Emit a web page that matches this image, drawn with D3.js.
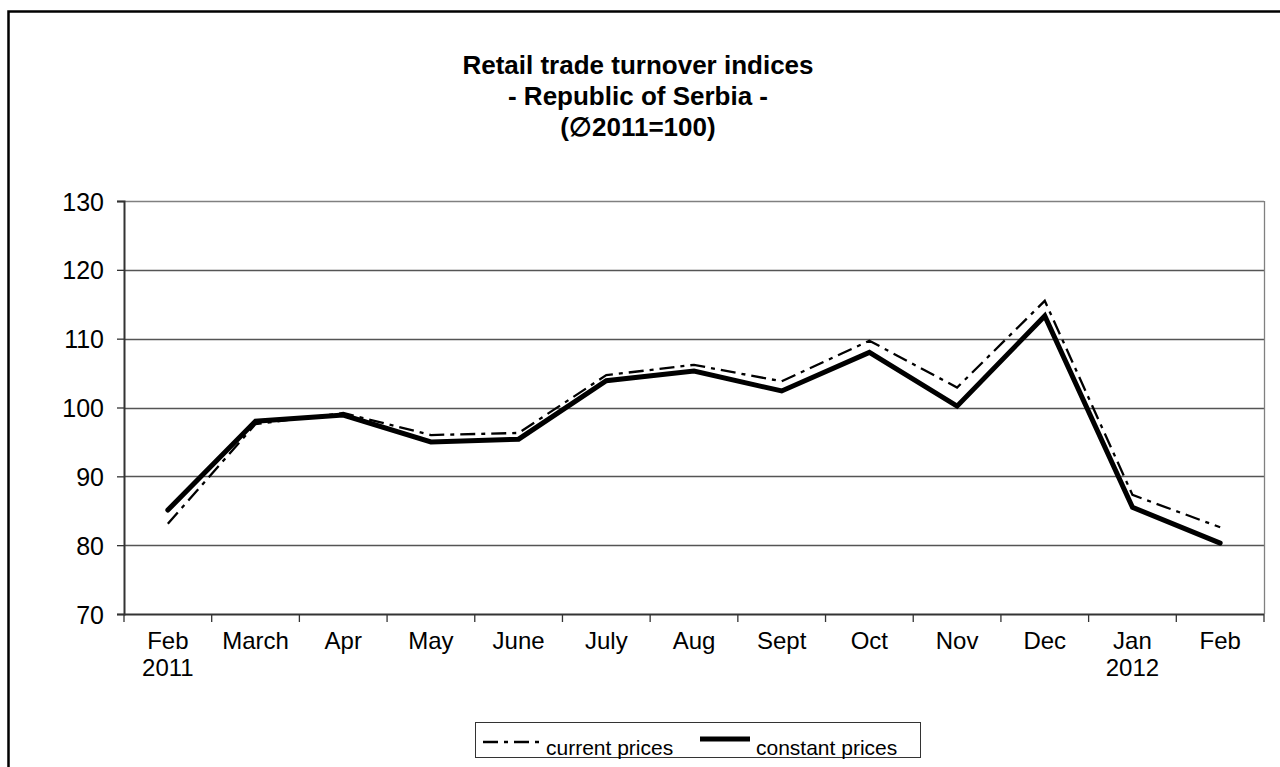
<!DOCTYPE html>
<html lang="en">
<head>
    <meta charset="UTF-8">
    <title>Retail trade turnover indices</title>
    <script src="https://d3js.org/d3.v7.min.js"></script>
    <style>
        body {
            margin: 0;
            background-color: #ffffff;
            font-family: "Liberation Sans", Arial, sans-serif;
        }
        .tick-label {
            font-size: 24px;
            fill: #000000;
        }
        .y-label {
            font-size: 25px;
            fill: #000000;
        }
        .title {
            font-size: 26px;
            font-weight: bold;
            fill: #000000;
        }
        .legend-text {
            font-size: 21px;
            fill: #000000;
        }
    </style>
</head>
<body>
    <svg id="chart" width="1280" height="767"></svg>

    <script>
        // month labels (two lines on the axis)
        const months = ["Feb", "March", "Apr", "May", "June", "July", "Aug", "Sept", "Oct", "Nov", "Dec", "Jan", "Feb"];
        const years = ["2011", "", "", "", "", "", "", "", "", "", "", "2012", ""];

        const currentPrices = [83.1, 97.6, 99.2, 96.0, 96.3, 104.7, 106.2, 103.8, 109.7, 102.9, 115.5, 87.3, 82.6];
        const constantPrices = [85.1, 98.0, 98.9, 95.0, 95.4, 103.9, 105.3, 102.4, 108.0, 100.2, 113.3, 85.5, 80.3];

        const yTicks = [70, 80, 90, 100, 110, 120, 130];
        const titleLines = ["Retail trade turnover indices", "- Republic of Serbia -", "(\u22052011=100)"];

        const plot = {left: 124, right: 1264, top: 201, bottom: 614};

        const svg = d3.select("#chart");

        // outer frame (right and bottom edges fall outside the picture)
        svg.append("rect")
            .attr("x", 8.5)
            .attr("y", 11.5)
            .attr("width", 1300)
            .attr("height", 800)
            .attr("fill", "none")
            .attr("stroke", "#000")
            .attr("stroke-width", 2.5);

        const x = d3.scaleBand()
            .domain(d3.range(months.length))
            .range([plot.left, plot.right])
            .padding(0);

        const y = d3.scaleLinear()
            .domain([70, 130])
            .range([plot.bottom, plot.top]);

        // title
        svg.append("g")
            .selectAll("text")
            .data(titleLines)
          .enter().append("text")
            .attr("class", "title")
            .attr("text-anchor", "middle")
            .attr("x", 638)
            .attr("y", (d, i) => 74 + i * 31)
            .text(d => d);

        // gridlines
        svg.append("g")
            .selectAll("line")
            .data(yTicks.filter(d => d > 70))
          .enter().append("line")
            .attr("x1", plot.left)
            .attr("x2", plot.right)
            .attr("y1", d => Math.round(y(d)) + 0.5)
            .attr("y2", d => Math.round(y(d)) + 0.5)
            .attr("stroke", d => d === 130 ? "#808080" : "#555")
            .attr("stroke-width", 1.3);

        // right border of plot area
        svg.append("line")
            .attr("x1", plot.right + 0.5)
            .attr("x2", plot.right + 0.5)
            .attr("y1", plot.top)
            .attr("y2", plot.bottom)
            .attr("stroke", "#808080")
            .attr("stroke-width", 1.3);

        // y axis
        const yAxis = d3.axisLeft(y)
            .tickValues(yTicks)
            .tickSize(7)
            .tickPadding(13);

        const gy = svg.append("g")
            .attr("transform", `translate(${plot.left},0)`)
            .call(yAxis);
        gy.select(".domain").attr("stroke", "#333").attr("stroke-width", 2);
        gy.selectAll(".tick line").attr("stroke", "#333").attr("stroke-width", 1.3);
        gy.selectAll(".tick text")
            .attr("class", "y-label")
            .attr("font-size", null)
            .attr("font-family", null)
            .attr("dy", "0.36em");
        gy.attr("font-size", null).attr("font-family", null);

        // x axis: ticks on band boundaries, labels centred in bands
        const boundaries = d3.range(months.length + 1).map(i => i < months.length ? x(i) : x(months.length - 1) + x.bandwidth());

        svg.append("line")
            .attr("x1", plot.left)
            .attr("x2", plot.right)
            .attr("y1", plot.bottom + 0.5)
            .attr("y2", plot.bottom + 0.5)
            .attr("stroke", "#333")
            .attr("stroke-width", 2);

        svg.append("g")
            .selectAll("line")
            .data(boundaries)
          .enter().append("line")
            .attr("x1", d => d)
            .attr("x2", d => d)
            .attr("y1", plot.bottom)
            .attr("y2", plot.bottom + 8)
            .attr("stroke", "#333")
            .attr("stroke-width", 1.3);

        const xl = svg.append("g");
        xl.selectAll(".month")
            .data(months)
          .enter().append("text")
            .attr("class", "tick-label")
            .attr("text-anchor", "middle")
            .attr("x", (d, i) => x(i) + x.bandwidth() / 2)
            .attr("y", 649)
            .text(d => d);
        xl.selectAll(".year")
            .data(years)
          .enter().append("text")
            .attr("class", "tick-label")
            .attr("text-anchor", "middle")
            .attr("x", (d, i) => x(i) + x.bandwidth() / 2)
            .attr("y", 676)
            .text(d => d);

        // lines
        const line = d3.line()
            .x((d, i) => x(i) + x.bandwidth() / 2)
            .y(d => y(d));

        svg.append("path")
            .datum(currentPrices)
            .attr("d", line)
            .attr("fill", "none")
            .attr("stroke", "#000")
            .attr("stroke-width", 2.3)
            .attr("stroke-dasharray", "15,6,4,6");

        svg.append("path")
            .datum(constantPrices)
            .attr("d", line)
            .attr("fill", "none")
            .attr("stroke", "#000")
            .attr("stroke-width", 5)
            .attr("stroke-linecap", "round");

        // legend
        const legend = svg.append("g");
        legend.append("rect")
            .attr("x", 475.5)
            .attr("y", 722.5)
            .attr("width", 445)
            .attr("height", 35)
            .attr("fill", "#fff")
            .attr("stroke", "#333")
            .attr("stroke-width", 1);

        legend.append("line")
            .attr("x1", 483).attr("x2", 540)
            .attr("y1", 742).attr("y2", 742)
            .attr("stroke", "#000")
            .attr("stroke-width", 2.5)
            .attr("stroke-dasharray", "15,6,4,6");
        legend.append("text")
            .attr("class", "legend-text")
            .attr("x", 546)
            .attr("y", 755)
            .text("current prices");

        legend.append("line")
            .attr("x1", 700).attr("x2", 750)
            .attr("y1", 739).attr("y2", 739)
            .attr("stroke", "#000")
            .attr("stroke-width", 5);
        legend.append("text")
            .attr("class", "legend-text")
            .attr("x", 756)
            .attr("y", 755)
            .text("constant prices");
    </script>
</body>
</html>
